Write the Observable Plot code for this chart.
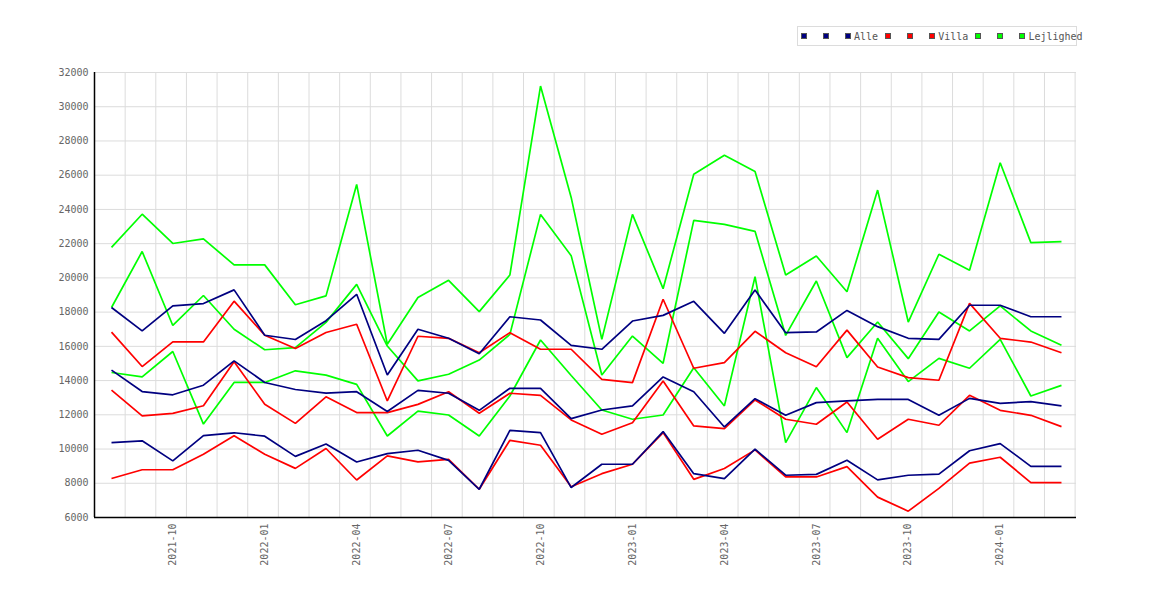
<!DOCTYPE html>
<html>
<head>
<meta charset="utf-8">
<script src="https://cdn.jsdelivr.net/npm/d3@7"></script>
<script src="https://cdn.jsdelivr.net/npm/@observablehq/plot@0.6"></script>
<style>
  body { margin: 0; background: #fff; }
  #wrap { position: relative; width: 1170px; height: 600px; overflow: hidden; }
  #legend {
    position: absolute; left: 797px; top: 26px; width: 280px; height: 20px;
    box-sizing: border-box; border: 1px solid #dcdcdc;
    font: 10px "DejaVu Sans Mono", monospace; color: #555;
    display: flex; align-items: center; padding-left: 3px; white-space: nowrap;
  }
  .item { display: inline-flex; align-items: center; margin-right: 7px; }
  .sw { width: 4px; height: 4px; border: 1px solid #555; margin-right: 3px; }
</style>
</head>
<body>
<div id="wrap">
  <div id="chart"></div>
  <div id="legend"></div>
</div>
<script>
// Months (x categories)
const months = [
  "2021-08","2021-09","2021-10","2021-11","2021-12","2022-01","2022-02","2022-03",
  "2022-04","2022-05","2022-06","2022-07","2022-08","2022-09","2022-10","2022-11",
  "2022-12","2023-01","2023-02","2023-03","2023-04","2023-05","2023-06","2023-07",
  "2023-08","2023-09","2023-10","2023-11","2023-12","2024-01","2024-02","2024-03"
];
// y tick values
const yTicks = [6000, 8000, 10000, 12000, 14000, 16000, 18000, 20000, 22000, 24000, 26000, 28000, 30000, 32000];

// Alle (navy)
const alleHigh = [18270,16900,18370,18500,19300,16650,16400,17500,19040,14330,17000,16470,15570,17730,17540,16060,
                  15830,17480,17810,18630,16760,19290,16800,16840,18100,17150,16470,16410,18400,18400,17730,17730];
const alleMid  = [14610,13360,13170,13730,15150,13890,13480,13270,13350,12190,13430,13260,12260,13550,13550,11780,
                  12280,12520,14210,13350,11290,12940,11970,12710,12810,12900,12900,11970,12960,12670,12770,12520];
const alleLow  = [10370,10480,9310,10780,10950,10750,9570,10290,9240,9730,9930,9340,7650,11090,10960,7750,
                  9110,9110,11020,8560,8270,9990,8470,8520,9340,8200,8470,8530,9900,10320,8990,8990];

// Villa (red)
const villaHigh = [16830,14820,16260,16260,18640,16650,15870,16810,17290,12810,16590,16470,15630,16800,15830,15830,
                   14070,13880,18750,14720,15050,16880,15630,14810,16950,14790,14170,14020,18510,16470,16250,15630];
const villaMid  = [13440,11940,12080,12530,15100,12620,11500,13050,12130,12130,12610,13350,12090,13260,13140,11700,
                   10860,11540,13980,11350,11190,12870,11740,11450,12750,10570,11740,11390,13140,12260,11970,11310];
const villaLow  = [8280,8790,8790,9700,10780,9700,8870,10030,8190,9600,9250,9400,7650,10510,10220,7800,
                   8560,9110,10960,8230,8860,9950,8370,8370,8970,7190,6370,7700,9180,9520,8040,8040];

// Lejlighed (green)
const lejHigh = [21780,23720,22010,22280,20760,20760,18430,18950,25460,16120,18850,19860,18030,20170,31210,24700,
                 16410,23710,19370,26050,27160,26220,20170,21280,19190,25130,17420,21380,20440,26730,22060,22120];
const lejMid  = [18270,21540,17220,18970,17000,15800,15930,17400,19620,16020,13980,14370,15200,16700,23710,21300,
                 14330,16600,15010,23360,23130,22720,16640,19820,15340,17420,15280,18010,16900,18360,16900,16060];
const lejLow  = [14470,14220,15700,11460,13890,13890,14570,14320,13780,10760,12220,11990,10760,13100,16370,14300,
                 12280,11740,11990,14750,12520,20070,10370,13590,10960,16470,13940,15300,14720,16410,13100,13720];

const categories = ["Alle", "Villa", "Lejlighed"];
const colors = ["#000080", "#ff0000", "#00ff00"];
const seriesValues = [[alleHigh, alleMid, alleLow], [villaHigh, villaMid, villaLow], [lejHigh, lejMid, lejLow]];

// build long table; draw green first, navy last (on top)
const rows = [];
[2, 1, 0].forEach(c => {
  seriesValues[c].forEach((vals, k) => {
    vals.forEach((v, i) => rows.push({ i, v, key: c * 3 + k, color: colors[c] }));
  });
});

const tickIdx = months.map((m, i) => i).filter(i => /-(01|04|07|10)$/.test(months[i]));
const xDomain = [-0.555, months.length - 1 + 0.49];
const gridX = months.map((m, i) => i + 0.445);

const chart = Plot.plot({
  width: 1170,
  height: 600,
  marginTop: 72,
  marginBottom: 83,
  marginLeft: 94,
  marginRight: 94,
  style: { fontFamily: "'DejaVu Sans Mono', monospace", fontSize: "10px", background: "#fff" },
  x: { type: "linear", domain: xDomain },
  y: { type: "linear", domain: [yTicks[0], yTicks[yTicks.length - 1]] },
  color: { type: "identity" },
  marks: [
    Plot.ruleY(yTicks, { stroke: "#dcdcdc", strokeWidth: 1 }),
    Plot.ruleX(gridX, { stroke: "#dcdcdc", strokeWidth: 1 }),
    Plot.line(rows, { x: "i", y: "v", z: "key", stroke: "color", strokeWidth: 1.7, strokeLinejoin: "miter", strokeLinecap: "butt" }),
    Plot.ruleX([xDomain[0]], { stroke: "#000", strokeWidth: 1.5 }),
    Plot.ruleY([yTicks[0]], { stroke: "#000", strokeWidth: 1.5 }),
    Plot.axisY(yTicks, { tickSize: 0, tickPadding: 6, label: null, fill: "#666", fontSize: 10,
                         tickFormat: d => String(d) }),
    Plot.axisX(tickIdx, { tickSize: 0, tickPadding: 6, tickRotate: -90, label: null, fill: "#666", fontSize: 10,
                          tickFormat: i => months[i] })
  ]
});
document.getElementById("chart").appendChild(chart);

// Legend: three swatches per category, label after the third
const legend = d3.select("#legend");
categories.forEach((cat, c) => {
  seriesValues[c].forEach((vals, k) => {
    const item = legend.append("span").attr("class", "item");
    item.append("span").attr("class", "sw").style("background", colors[c]);
    item.append("span").text(k === 2 ? cat : "\u00a0");
  });
});
</script>
</body>
</html>
